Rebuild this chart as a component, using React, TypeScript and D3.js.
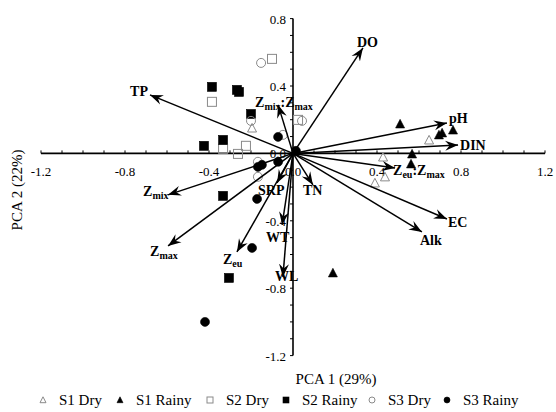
import React from "react";
import * as d3 from "d3";

// ---- data ----
const xTicks = [-1.2, -0.8, -0.4, 0.0, 0.4, 0.8, 1.2];
const yTicks = [0.8, 0.4, 0.0, -0.4, -0.8, -1.2];
const xTitle = "PCA 1 (29%)";
const yTitle = "PCA 2 (22%)";

// loadings (arrow tips)
const vecNames = ["DO", "Z_mix:Z_max", "TP", "pH", "DIN", "Z_eu:Z_max", "EC", "Alk", "TN", "SRP", "WT", "WL", "Z_eu", "Z_max", "Z_mix"];
const vecX = [0.333, -0.071, -0.681, 0.733, 0.786, 0.486, 0.733, 0.614, 0.095, -0.076, -0.052, -0.048, -0.267, -0.595, -0.595];
const vecY = [0.626, 0.288, 0.347, 0.181, 0.05, -0.086, -0.389, -0.466, -0.187, -0.175, -0.424, -0.733, -0.585, -0.549, -0.246];

// scores
const s1DryX = [-0.195, 0.648, 0.429, 0.438, 0.39];
const s1DryY = [0.151, 0.08, -0.021, -0.139, -0.175];
const s1RainyX = [0.51, 0.695, 0.71, 0.762, 0.567, 0.562, 0.19];
const s1RainyY = [0.175, 0.11, 0.122, 0.139, -0.003, -0.062, -0.709];
const s2DryX = [-0.1, -0.386, 0.024, -0.333, -0.224, -0.262];
const s2DryY = [0.561, 0.306, 0.199, 0.027, 0.045, -0.003];
const s2RainyX = [-0.386, -0.267, -0.257, -0.2, -0.424, -0.333, -0.333, -0.305];
const s2RainyY = [0.395, 0.377, 0.365, 0.234, 0.045, 0.08, -0.252, -0.739];
const s3DryX = [-0.152, -0.2, 0.043, -0.048, -0.167, -0.167];
const s3DryY = [0.537, 0.193, 0.193, 0.11, -0.05, -0.139];
const s3RainyX = [-0.071, 0.014, -0.167, -0.148, -0.071, -0.171, -0.195, -0.419];
const s3RainyY = [0.098, 0.015, -0.08, -0.068, -0.05, -0.27, -0.561, -1.0];

const seriesNames = ["S1 Dry", "S1 Rainy", "S2 Dry", "S2 Rainy", "S3 Dry", "S3 Rainy"];

// ---- layout / style ----
const W = 556, H = 412;
const x = d3.scaleLinear().domain([-1.2, 1.2]).range([41, 545]);
const y = d3.scaleLinear().domain([-1.2, 0.8]).range([355.6, 18.6]);
const GRAY = "#8a8a8a";
const FONT = "'Liberation Serif', 'Times New Roman', serif";

// label offsets relative to arrow tips (px)
const labelOffsets: [number, number, string][] = [
  [-6, -1, "start"], [-23, 2, "start"], [-2, 1, "end"], [2, 0, "start"], [2, 5, "start"],
  [-2, 7, "start"], [1, 8, "start"], [-2, 13, "start"], [-10, 10, "start"], [-19, 12, "start"],
  [-16, 17, "start"], [-8, 4, "start"], [-14, 12, "start"], [-18, 10, "start"], [-25, 1, "start"],
];

type Shape = "triangle" | "square" | "circle";
const seriesStyle: { shape: Shape; filled: boolean }[] = [
  { shape: "triangle", filled: false },
  { shape: "triangle", filled: true },
  { shape: "square", filled: false },
  { shape: "square", filled: true },
  { shape: "circle", filled: false },
  { shape: "circle", filled: true },
];
const seriesData: [number[], number[]][] = [
  [s1DryX, s1DryY], [s1RainyX, s1RainyY], [s2DryX, s2DryY],
  [s2RainyX, s2RainyY], [s3DryX, s3DryY], [s3RainyX, s3RainyY],
];
const legendX = [43, 120, 210, 286, 372, 447];

function Marker({ cx, cy, shape, filled, size }: { cx: number; cy: number; shape: Shape; filled: boolean; size: number }) {
  const fill = filled ? "#000" : "none";
  const stroke = filled ? "#000" : GRAY;
  const sw = filled ? 0.6 : 1;
  if (shape === "circle") return <circle cx={cx} cy={cy} r={size / 2} fill={fill} stroke={stroke} strokeWidth={sw} />;
  if (shape === "square")
    return <rect x={cx - size / 2} y={cy - size / 2} width={size} height={size} fill={fill} stroke={stroke} strokeWidth={sw} />;
  const h = size * 0.9;
  const pts = `${cx},${cy - h / 2 - 0.5} ${cx - size / 2},${cy + h / 2} ${cx + size / 2},${cy + h / 2}`;
  return <polygon points={pts} fill={fill} stroke={stroke} strokeWidth={sw} />;
}

function Label({ text, px, py, anchor }: { text: string; px: number; py: number; anchor: string }) {
  const parts: { t: string; sub: boolean }[] = [];
  const re = /_([a-z]+)/g;
  let last = 0;
  let m: RegExpExecArray | null;
  while ((m = re.exec(text))) {
    if (m.index > last) parts.push({ t: text.slice(last, m.index), sub: false });
    parts.push({ t: m[1], sub: true });
    last = m.index + m[0].length;
  }
  if (last < text.length) parts.push({ t: text.slice(last), sub: false });
  let prevSub = false;
  return (
    <text x={px} y={py} textAnchor={anchor as any} fontFamily={FONT} fontWeight="bold" fontSize={14}>
      {parts.map((p, i) => {
        const dy = p.sub && !prevSub ? 3 : !p.sub && prevSub ? -3 : 0;
        prevSub = p.sub;
        return (
          <tspan key={i} dy={dy} fontSize={p.sub ? 10 : 14}>
            {p.t}
          </tspan>
        );
      })}
    </text>
  );
}

export default function App() {
  const x0 = x(0), y0 = y(0);
  const minorX = d3.range(-12, 13).map((d) => d / 10);
  const minorY = d3.range(-12, 9).map((d) => d / 10);
  return (
    <svg width={W} height={H} style={{ position: "absolute", left: 0, top: 0, background: "#fff" }}>
      <defs>
        <marker id="ah" viewBox="-13 -6 15 12" refX={0} refY={0} markerWidth={15} markerHeight={12} markerUnits="userSpaceOnUse" orient="auto">
          <path d="M0,0 L-13,-5 L-8.5,0 L-13,5 Z" fill="#000" />
        </marker>
      </defs>
      {/* axes */}
      <line x1={x(-1.2)} x2={x(1.2)} y1={y0} y2={y0} stroke="#000" strokeWidth={1.6} />
      <line x1={x0} x2={x0} y1={y(0.8)} y2={y(-1.2)} stroke="#000" strokeWidth={1.6} />
      {minorX.map((d, i) => (
        <line key={"mx" + i} x1={x(d)} x2={x(d)} y1={y0} y2={y0 - 3} stroke="#000" strokeWidth={1} />
      ))}
      {minorY.map((d, i) => (
        <line key={"my" + i} x1={x0} x2={x0 - 3} y1={y(d)} y2={y(d)} stroke="#000" strokeWidth={1} />
      ))}
      {xTicks.map((d, i) => (
        <text key={"xt" + i} x={x(d)} y={y0 + 23} textAnchor="middle" fontFamily={FONT} fontSize={13}>
          {d.toFixed(1)}
        </text>
      ))}
      {yTicks.map((d, i) => (
        <text key={"yt" + i} x={x0 - 7} y={y(d) + 5} textAnchor="end" fontFamily={FONT} fontSize={13}>
          {d.toFixed(1)}
        </text>
      ))}
      {/* scores */}
      {seriesData.map(([xs, ys], si) =>
        xs.map((vx, i) => (
          <Marker key={si + "-" + i} cx={x(vx)} cy={y(ys[i])} shape={seriesStyle[si].shape} filled={seriesStyle[si].filled} size={9} />
        ))
      )}
      {/* loadings */}
      {vecNames.map((n, i) => (
        <line key={"v" + i} x1={x0} y1={y0} x2={x(vecX[i])} y2={y(vecY[i])} stroke="#000" strokeWidth={1.5} markerEnd="url(#ah)" />
      ))}
      {vecNames.map((n, i) => (
        <Label key={"l" + i} text={n} px={x(vecX[i]) + labelOffsets[i][0]} py={y(vecY[i]) + labelOffsets[i][1]} anchor={labelOffsets[i][2]} />
      ))}
      {/* titles */}
      <text x={336} y={384} textAnchor="middle" fontFamily={FONT} fontSize={15}>
        {xTitle}
      </text>
      <text transform={`translate(22,190) rotate(-90)`} textAnchor="middle" fontFamily={FONT} fontSize={15}>
        {yTitle}
      </text>
      {/* legend */}
      {seriesNames.map((n, i) => (
        <g key={"lg" + i}>
          <Marker cx={legendX[i]} cy={400} shape={seriesStyle[i].shape} filled={seriesStyle[i].filled} size={6} />
          <text x={legendX[i] + 16} y={405} fontFamily={FONT} fontSize={15}>
            {n}
          </text>
        </g>
      ))}
    </svg>
  );
}
